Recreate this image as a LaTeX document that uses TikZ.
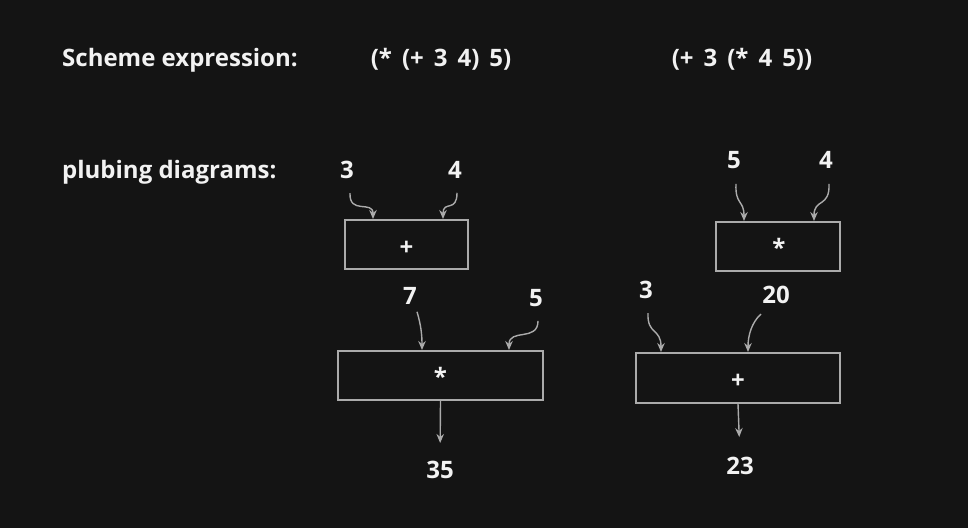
\documentclass[tikz,border=0pt]{standalone}
\usepackage{fontspec}
\setmainfont{Open Sans}
\usetikzlibrary{arrows.meta}
\definecolor{bgc}{HTML}{141414}
\definecolor{fgc}{HTML}{F2F2F2}
\definecolor{linec}{HTML}{ABABAB}
\begin{document}
\begin{tikzpicture}[x=1pt,y=-1pt,
  font=\fontsize{24}{28}\selectfont\bfseries,
  txt/.style={text=fgc, inner sep=0pt},
  opbox/.style={draw=linec, line width=2pt, inner sep=0pt, minimum height=49pt},
  wire/.style={draw=linec, line width=1.4pt, -{Stealth[length=9pt,width=7.5pt]}}]
\fill[bgc] (0,0) rectangle (968,528);
\useasboundingbox (0,0) rectangle (968,528);

% headings
\node[txt, anchor=base west] (h1) at (62,66) {Scheme expression:};
\node[txt, anchor=base] (e1) at (441,66) {\spaceskip=10pt (* (+ 3 4) 5)};
\node[txt, anchor=base] (e2) at (742,66) {\spaceskip=10pt (+ 3 (* 4 5))};
\node[txt, anchor=base west] (h2) at (62,178) {plubing diagrams:};

% left diagram
\node[txt] (a3) at (347,170) {3};
\node[txt] (a4) at (455,170) {4};
\node[opbox, minimum width=123pt] (plusL) at (406.5,244.5) {};
\node[txt] (plusLt) at (406.5,248) {+};
\node[txt] (a7) at (410,296) {7};
\node[txt] (a5) at (536,298) {5};
\node[opbox, minimum width=205pt] (mulL) at (440.5,375.5) {};
\node[txt, anchor=base] (mulLt) at (440.5,385) {*};
\node[txt] (a35) at (440,470) {35};

\coordinate (pl1) at (373,219);
\coordinate (pl2) at (443,219);
\coordinate (ml1) at (422,350);
\coordinate (ml2) at (509,350);

\draw[wire] ([xshift=3pt,yshift=-14pt]a3.south) .. controls (349,215) and (373,200) .. (pl1);
\draw[wire] ([xshift=2pt,yshift=-14pt]a4.south) .. controls (457,213) and (443,200) .. (pl2);
\draw[wire] ([xshift=7pt,yshift=-7pt]a7.south) .. controls (421,325) and (422,335) .. (ml1);
\draw[wire] ([xshift=2pt,yshift=-14pt]a5.south) .. controls (538,342) and (509,328) .. (ml2);
\draw[wire, shorten >=18pt] (mulL.south) -- (a35.north);

% right diagram
\node[txt] (b5) at (734,160) {5};
\node[txt] (b4) at (826,160) {4};
\node[opbox, minimum width=124pt] (mulR) at (778,246.5) {};
\node[txt, anchor=base] (mulRt) at (779,256) {*};
\node[txt] (b3) at (646,290) {3};
\node[txt] (b20) at (776,295) {20};
\node[opbox, minimum width=204pt, minimum height=50pt] (plusR) at (738,378) {};
\node[txt] (plusRt) at (738,381) {+};
\node[txt] (b23) at (740,466) {23};

\coordinate (mr1) at (744,221);
\coordinate (mr2) at (814,221);
\coordinate (pr1) at (661,352);
\coordinate (pr2) at (748,352);

\draw[wire] ([xshift=2pt,yshift=-15pt]b5.south) .. controls (735,205) and (744,200) .. (mr1);
\draw[wire] ([xshift=3pt,yshift=-15pt]b4.south) .. controls (830,208) and (814,198) .. (mr2);
\draw[wire] ([xshift=2pt,yshift=-14pt]b3.south) .. controls (647,335) and (661,328) .. (pr1);
\draw[wire] ([xshift=-15pt,yshift=-10pt]b20.south) .. controls (752,322) and (748,335) .. (pr2);
\draw[wire, shorten >=20pt] (plusR.south) -- (b23.north);
\end{tikzpicture}
\end{document}
